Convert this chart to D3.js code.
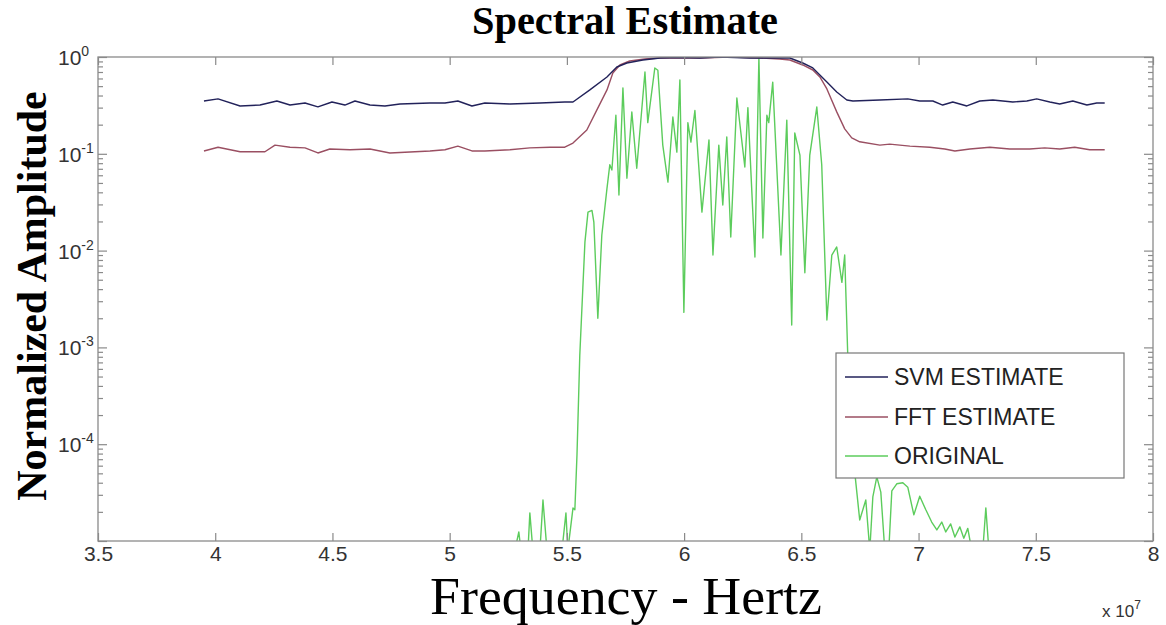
<!DOCTYPE html>
<html>
<head>
<meta charset="utf-8">
<script src="https://cdn.jsdelivr.net/npm/d3@7"></script>
<style>
  body { margin: 0; background: #fff; }
  svg { display: block; }
</style>
</head>
<body>
<div id="chart"></div>
<script>
// frequencies in units of 1e7 Hz, amplitudes normalised
const svmFreq = [3.952, 4.012, 4.106, 4.191, 4.263, 4.319, 4.383, 4.438, 4.498, 4.553, 4.596, 4.660, 4.724, 4.788,
  4.916, 4.980, 5.035, 5.095, 5.150, 5.257, 5.385, 5.491, 5.526, 5.598, 5.671, 5.713, 5.756, 5.824, 5.897, 5.982,
  6.067, 6.152, 6.280, 6.387, 6.451, 6.506, 6.549, 6.579, 6.609, 6.651, 6.694, 6.720, 6.835, 6.954, 7.005, 7.061,
  7.103, 7.146, 7.206, 7.261, 7.317, 7.402, 7.462, 7.504, 7.560, 7.602, 7.658, 7.718, 7.760, 7.794];
const svmAmp = [0.351, 0.369, 0.312, 0.319, 0.351, 0.319, 0.335, 0.305, 0.343, 0.319, 0.351, 0.319, 0.312, 0.327,
  0.335, 0.335, 0.351, 0.312, 0.335, 0.327, 0.335, 0.343, 0.343, 0.457, 0.622, 0.788, 0.867, 0.931, 0.976, 0.988,
  0.976, 1.0, 0.976, 0.976, 0.976, 0.867, 0.770, 0.652, 0.552, 0.435, 0.360, 0.351, 0.360, 0.369, 0.351, 0.351,
  0.319, 0.343, 0.312, 0.351, 0.360, 0.343, 0.351, 0.369, 0.343, 0.327, 0.351, 0.319, 0.335, 0.335];

const fftFreq = [3.952, 4.012, 4.106, 4.212, 4.255, 4.319, 4.383, 4.438, 4.489, 4.575, 4.660, 4.745, 4.916, 4.980,
  5.035, 5.095, 5.150, 5.257, 5.342, 5.428, 5.491, 5.526, 5.585, 5.628, 5.671, 5.696, 5.726, 5.768, 5.832, 5.897,
  6.067, 6.195, 6.323, 6.408, 6.451, 6.506, 6.549, 6.579, 6.609, 6.651, 6.685, 6.715, 6.749, 6.835, 6.877, 6.963,
  7.048, 7.112, 7.155, 7.219, 7.304, 7.389, 7.474, 7.538, 7.602, 7.666, 7.730, 7.794];
const fftAmp = [0.107, 0.117, 0.105, 0.105, 0.123, 0.117, 0.115, 0.102, 0.112, 0.110, 0.112, 0.102, 0.107, 0.110,
  0.120, 0.107, 0.107, 0.110, 0.115, 0.117, 0.117, 0.129, 0.176, 0.284, 0.457, 0.684, 0.827, 0.909, 0.953, 0.976,
  0.976, 1.0, 0.976, 0.953, 0.931, 0.827, 0.734, 0.622, 0.468, 0.271, 0.181, 0.146, 0.133, 0.123, 0.126, 0.120,
  0.117, 0.112, 0.107, 0.112, 0.117, 0.112, 0.112, 0.115, 0.112, 0.117, 0.110, 0.110];

const origFreq = [5.278, 5.295, 5.304, 5.334, 5.342, 5.355, 5.385, 5.398, 5.415, 5.479, 5.496, 5.504, 5.526, 5.534,
  5.543, 5.555, 5.568, 5.577, 5.590, 5.607, 5.615, 5.632, 5.649, 5.671, 5.683, 5.692, 5.709, 5.722, 5.739, 5.756,
  5.777, 5.798, 5.833, 5.845, 5.875, 5.888, 5.909, 5.931, 5.952, 5.969, 5.982, 5.999, 6.016, 6.029, 6.046, 6.076,
  6.106, 6.123, 6.148, 6.165, 6.182, 6.199, 6.225, 6.259, 6.272, 6.302, 6.319, 6.336, 6.353, 6.361, 6.378, 6.413,
  6.438, 6.459, 6.472, 6.494, 6.515, 6.536, 6.566, 6.587, 6.609, 6.630, 6.651, 6.673, 6.685, 6.698, 6.715, 6.732,
  6.749, 6.775, 6.792, 6.805, 6.822, 6.839, 6.856, 6.873, 6.886, 6.907, 6.933, 6.954, 6.980, 7.005, 7.031, 7.056,
  7.078, 7.099, 7.116, 7.137, 7.155, 7.176, 7.193, 7.210, 7.227, 7.274, 7.287, 7.300];
const origAmp = [8e-6, 1.24e-5, 8e-6, 8e-6, 1.95e-5, 8e-6, 8e-6, 2.65e-5, 8e-6, 8e-6, 1.95e-5, 8e-6, 2.19e-5, 2.1e-5,
  7.7e-5, 8.3e-4, 4.1e-3, 1.23e-2, 2.5e-2, 2.6e-2, 1.97e-2, 2.0e-3, 1.45e-2, 4.4e-2, 7.7e-2, 6.8e-2, 0.25, 3.75e-2, 0.48, 5.6e-2,
  0.27, 7.1e-2, 0.70, 0.21, 0.77, 0.73, 0.123, 5.1e-2, 0.24, 0.104, 0.58, 2.3e-3, 0.21, 0.132, 0.28, 2.5e-2,
  0.139, 9.0e-3, 0.123, 2.96e-2, 0.149, 1.38e-2, 0.377, 7.3e-2, 0.30, 8.6e-3, 0.98, 1.35e-2, 0.25, 0.21, 0.55, 9.0e-3,
  0.223, 1.7e-3, 0.164, 9.7e-2, 5.9e-3, 9.7e-2, 0.304, 7.7e-2, 1.92e-3, 9.0e-3, 1.09e-2, 4.7e-3, 9.0e-3, 8.3e-4, 1.1e-4, 4.1e-5,
  1.65e-5, 2.65e-5, 8e-6, 2.85e-5, 4.6e-5, 3.2e-5, 8e-6, 8e-6, 3.3e-5, 3.9e-5, 4.0e-5, 3.6e-5, 1.86e-5, 2.9e-5, 2.1e-5, 1.57e-5,
  1.3e-5, 1.57e-5, 1.24e-5, 1.5e-5, 1.1e-5, 1.4e-5, 1.07e-5, 1.35e-5, 8e-6, 8e-6, 2.2e-5, 8e-6];

const xTicks = [3.5, 4, 4.5, 5, 5.5, 6, 6.5, 7, 7.5, 8];
const yMajor = [1, 1e-1, 1e-2, 1e-3, 1e-4, 1e-5];
const yExpLabels = ["0", "-1", "-2", "-3", "-4"];
const seriesNames = ["SVM ESTIMATE", "FFT ESTIMATE", "ORIGINAL"];
const seriesColors = ["#22225a", "#9a4f62", "#5ccc5c"];

const width = 1166, height = 625;
const plot = { left: 98, right: 1153, top: 57, bottom: 541 };
const sans = "'Liberation Sans', Arial, sans-serif";
const serif = "'Liberation Serif', 'Times New Roman', serif";
const axisColor = "#8a8a8a";

const svg = d3.select("#chart").append("svg")
    .attr("width", width)
    .attr("height", height);

const x = d3.scaleLinear().domain([3.5, 8]).range([plot.left, plot.right]);
const y = d3.scaleLog().domain([1e-5, 1]).range([plot.bottom, plot.top]);

// minor ticks for the log axis
const yMinor = [];
for (let e = -5; e < 0; e++) {
  for (let k = 2; k <= 9; k++) yMinor.push(k * Math.pow(10, e));
}

svg.append("clipPath").attr("id", "clip")
  .append("rect")
    .attr("x", plot.left).attr("y", plot.top)
    .attr("width", plot.right - plot.left).attr("height", plot.bottom - plot.top);

// Lines
const line = d3.line().x(d => x(d[0])).y(d => y(d[1]));
const series = [
  d3.zip(svmFreq, svmAmp),
  d3.zip(fftFreq, fftAmp),
  d3.zip(origFreq, origAmp)
];
[2, 1, 0].forEach(i => {
  svg.append("path")
      .datum(series[i])
      .attr("clip-path", "url(#clip)")
      .attr("fill", "none")
      .attr("stroke", seriesColors[i])
      .attr("stroke-width", 1.4)
      .attr("stroke-linejoin", "round")
      .attr("d", line);
});

// Axes, ticks pointing inward
function styleAxis(g) {
  g.select(".domain").remove();
  g.selectAll(".tick line").attr("stroke", axisColor).attr("stroke-width", 1.2);
}

svg.append("g")
    .attr("transform", `translate(0,${plot.bottom})`)
    .call(d3.axisBottom(x).tickValues(xTicks).tickSize(-8).tickPadding(5).tickFormat(d3.format("")))
    .call(styleAxis)
    .call(g => g.selectAll("text")
        .attr("font-family", sans).attr("font-size", 21).attr("fill", "#333"));

svg.append("g")
    .attr("transform", `translate(0,${plot.top})`)
    .call(d3.axisTop(x).tickValues(xTicks).tickSize(-8).tickFormat(""))
    .call(styleAxis);

[[d3.axisLeft, plot.left], [d3.axisRight, plot.right]].forEach(([axisFn, xPos]) => {
  svg.append("g")
      .attr("transform", `translate(${xPos},0)`)
      .call(axisFn(y).tickValues(yMajor).tickSize(-9).tickFormat(""))
      .call(styleAxis);
  svg.append("g")
      .attr("transform", `translate(${xPos},0)`)
      .call(axisFn(y).tickValues(yMinor).tickSize(-5).tickFormat(""))
      .call(styleAxis);
});

// box
svg.append("rect")
    .attr("x", plot.left).attr("y", plot.top)
    .attr("width", plot.right - plot.left).attr("height", plot.bottom - plot.top)
    .attr("fill", "none").attr("stroke", axisColor).attr("stroke-width", 1.3);

// y tick labels 10^n
yExpLabels.forEach((ex, i) => {
  const t = svg.append("text")
      .attr("x", 58).attr("y", y(yMajor[i]) + 8)
      .attr("font-family", sans).attr("font-size", 21).attr("fill", "#333");
  t.append("tspan").text("10");
  t.append("tspan").attr("dy", -9).attr("font-size", 14).text(ex);
});

// exponent note under x axis
const xe = svg.append("text")
    .attr("x", 1102).attr("y", 617)
    .attr("font-family", sans).attr("font-size", 17).attr("fill", "#333");
xe.append("tspan").text("x 10");
xe.append("tspan").attr("dy", -8).attr("font-size", 12).text("7");

// Titles
svg.append("text")
    .attr("x", 625).attr("y", 34)
    .attr("text-anchor", "middle")
    .attr("font-family", serif).attr("font-weight", "bold").attr("font-size", 39)
    .attr("textLength", 306).attr("lengthAdjust", "spacingAndGlyphs")
    .text("Spectral Estimate");

svg.append("text")
    .attr("x", 626).attr("y", 614)
    .attr("text-anchor", "middle")
    .attr("font-family", serif).attr("font-size", 53)
    .attr("textLength", 392).attr("lengthAdjust", "spacingAndGlyphs")
    .text("Frequency - Hertz");

svg.append("text")
    .attr("transform", "translate(46,296) rotate(-90)")
    .attr("text-anchor", "middle")
    .attr("font-family", serif).attr("font-weight", "bold").attr("font-size", 42)
    .text("Normalized Amplitude");

// Legend
const legend = svg.append("g").attr("transform", "translate(836,353)");
legend.append("rect")
    .attr("width", 288).attr("height", 125)
    .attr("fill", "#fff").attr("stroke", "#777").attr("stroke-width", 1.2);
const rows = [24, 64, 103];
seriesNames.forEach((name, i) => {
  legend.append("line")
      .attr("x1", 9).attr("x2", 52)
      .attr("y1", rows[i]).attr("y2", rows[i])
      .attr("stroke", seriesColors[i]).attr("stroke-width", 1.4);
  legend.append("text")
      .attr("x", 58).attr("y", rows[i] + 8)
      .attr("font-family", sans).attr("font-size", 23).attr("fill", "#222")
      .text(name);
});
</script>
</body>
</html>
